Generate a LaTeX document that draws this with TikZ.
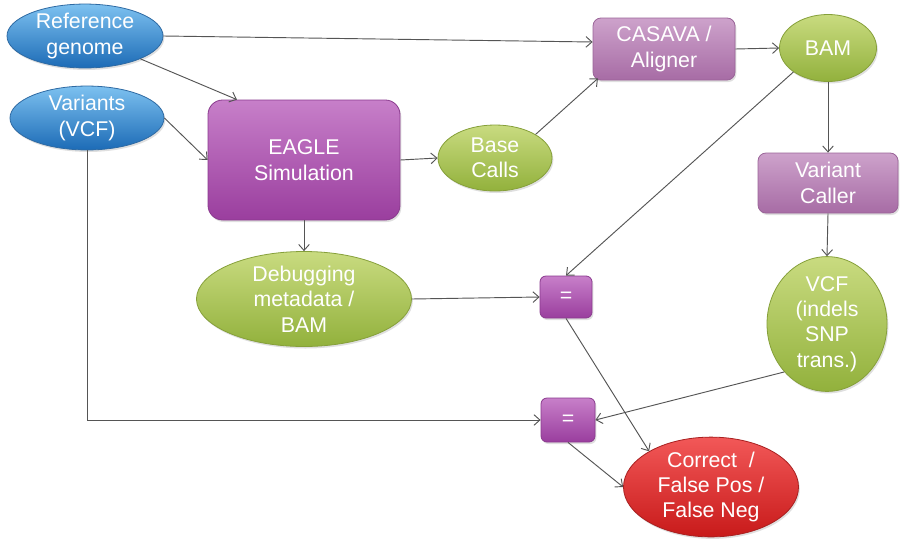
\documentclass[tikz,border=0pt]{standalone}
\usepackage{fontspec}
\setmainfont{Liberation Sans}
\usetikzlibrary{shapes.geometric,arrows.meta,shadows,calc}
\definecolor{bluetop}{HTML}{7DC1F0}
\definecolor{bluebot}{HTML}{1C6BB6}
\definecolor{bluedraw}{HTML}{2E6AA3}
\definecolor{eagtop}{HTML}{C77FC9}
\definecolor{eagbot}{HTML}{9A3E9E}
\definecolor{eagdraw}{HTML}{8A3A8E}
\definecolor{paletop}{HTML}{CDA2CB}
\definecolor{palebot}{HTML}{A76CA5}
\definecolor{paledraw}{HTML}{9A6498}
\definecolor{greentop}{HTML}{C9DB80}
\definecolor{greenbot}{HTML}{92B13C}
\definecolor{greendraw}{HTML}{86A03A}
\definecolor{redtop}{HTML}{F25858}
\definecolor{redbot}{HTML}{C81A1A}
\definecolor{reddraw}{HTML}{A82020}
\definecolor{linegray}{HTML}{555555}
\begin{document}
\begin{tikzpicture}[x=0.75pt,y=-0.75pt,
  every node/.style={text=white,align=center,font=\fontsize{16}{19}\selectfont,inner sep=0pt},
  shad/.style={drop shadow={opacity=0.25,shadow xshift=1pt,shadow yshift=-1.5pt}},
  blueell/.style={ellipse,shad,top color=bluetop,bottom color=bluebot,draw=bluedraw,line width=0.6pt},
  greenell/.style={ellipse,shad,top color=greentop,bottom color=greenbot,draw=greendraw,line width=0.6pt},
  redell/.style={ellipse,shad,top color=redtop,bottom color=redbot,draw=reddraw,line width=0.6pt},
  eaglebox/.style={rectangle,rounded corners=11pt,shad,top color=eagtop,bottom color=eagbot,draw=eagdraw,line width=0.6pt},
  palebox/.style={rectangle,rounded corners=6pt,shad,top color=paletop,bottom color=palebot,draw=paledraw,line width=0.6pt},
  eqbox/.style={rectangle,rounded corners=4.5pt,shad,top color=eagtop,bottom color=eagbot,draw=eagdraw,line width=0.6pt},
  conn/.style={draw=linegray,line width=0.7pt,-{Straight Barb[length=4.5pt,width=8pt]}}
]
\useasboundingbox (0,0) rectangle (905,543);
\fill[white] (0,0) rectangle (905,543);

\node[blueell,minimum width={156*0.75pt},minimum height={60*0.75pt}] (ref) at (85,36) {Reference\\genome};
\node[blueell,minimum width={154*0.75pt},minimum height={60*0.75pt}] (var) at (87,118) {Variants\\(VCF)};
\node[eaglebox,minimum width={192*0.75pt},minimum height={120*0.75pt}] (eagle) at (304,160) {EAGLE\\Simulation};
\node[greenell,minimum width={114*0.75pt},minimum height={66*0.75pt}] (base) at (495,158) {Base\\Calls};
\node[greenell,minimum width={215*0.75pt},minimum height={95*0.75pt}] (debug) at (304,299) {Debugging\\metadata /\\BAM};
\node[palebox,minimum width={142*0.75pt},minimum height={62*0.75pt}] (casava) at (664,49) {CASAVA /\\Aligner};
\node[greenell,minimum width={97*0.75pt},minimum height={67*0.75pt}] (bam) at (828,48) {BAM};
\node[palebox,minimum width={140*0.75pt},minimum height={60*0.75pt}] (vc) at (828,183) {Variant\\Caller};
\node[greenell,minimum width={120*0.75pt},minimum height={122*0.75pt}] (vcf) at (827,324) {VCF\\(indels\\SNP\\trans.)};
\node[eqbox,minimum width={52*0.75pt},minimum height={42*0.75pt}] (eq1) at (566,297) {=};
\node[eqbox,minimum width={54*0.75pt},minimum height={44*0.75pt}] (eq2) at (568,420) {=};
\node[redell,minimum width={175*0.75pt},minimum height={93*0.75pt}] (res) at (711,487) {Correct~ /\\False Pos /\\False Neg};

\draw[conn] (ref.east) -- ([yshift=5.25pt]casava.west);
\draw[conn] (ref.south east) -- ([xshift=22pt]eagle.north west);
\draw[conn] (var.east) -- (eagle.west);
\draw[conn] (var.south) |- (eq2.west);
\draw[conn] (eagle.east) -- (base.west);
\draw[conn] (eagle.south) -- (debug.north);
\draw[conn] (base.north east) -- ([xshift=4pt,yshift=1.5pt]casava.south west);
\draw[conn] (casava.east) -- (bam.west);
\draw[conn] (bam.south west) -- (eq1.north);
\draw[conn] (bam.south) -- (vc.north);
\draw[conn] (vc.south) -- (vcf.north);
\draw[conn] (debug.east) -- (eq1.west);
\draw[conn] (eq1.south) -- (res.150);
\draw[conn] (vcf.south west) -- (eq2.east);
\draw[conn] (eq2.south) -- (res.west);
\end{tikzpicture}
\end{document}
